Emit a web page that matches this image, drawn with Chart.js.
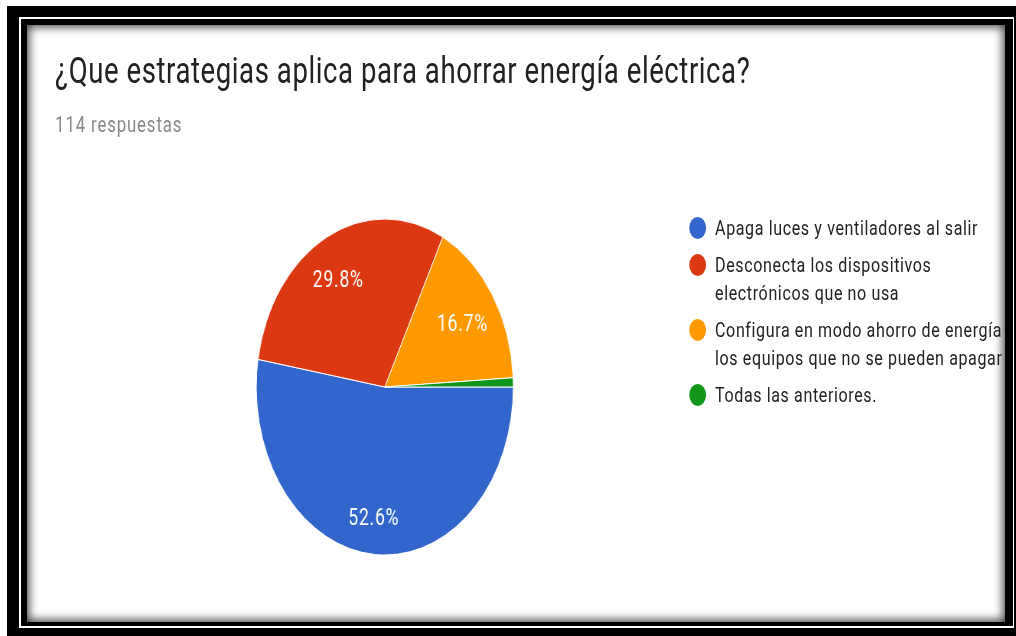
<!DOCTYPE html>
<html>
<head>
<meta charset="utf-8">
<script src="https://cdn.jsdelivr.net/npm/chart.js@4/dist/chart.umd.min.js"></script>
<style>
  html, body { margin: 0; padding: 0; background: #fff; }
  body { width: 1016px; height: 636px; position: relative; overflow: hidden; font-family: Roboto, Arial, sans-serif; }
  .abs { position: absolute; }
  #f1 { left: 7px; top: 6px; width: 1009px; height: 630px; background: #000; }
  #f2 { left: 19px; top: 17px; width: 995px; height: 611px; background: #fff; }
  #f3 { left: 21px; top: 19px; width: 992px; height: 607px; background: #000; }
  #card { left: 27px; top: 25px; width: 978px; height: 597px; background: #fff;
          box-shadow: inset 0 0 10px 2px rgba(0,0,0,0.75); }
  /* the source screenshot is squeezed horizontally, so is this */
  #wrap { left: 0; top: 0; width: 1328px; height: 636px; transform: scaleX(0.765); transform-origin: 0 0; }
  #title { left: 72px; top: 53px; font-size: 36px; letter-spacing: 0.75px; line-height: 1; color: #212121; white-space: nowrap; }
  #sub { left: 72px; top: 114px; font-size: 22px; letter-spacing: 1.1px; line-height: 1; color: #8a8a8a; white-space: nowrap; }
  #pieBox { left: 332.6px; top: 217px; width: 340px; height: 340px; }
  #legend { left: 900.7px; top: 214px; }
  .item { position: relative; padding-left: 34px; margin-bottom: 9px; font-size: 21px; letter-spacing: 0.8px; line-height: 28px; color: #222; white-space: nowrap; }
  .dot { position: absolute; left: 0; top: 3px; width: 22px; height: 22px; border-radius: 50%; }
</style>
</head>
<body>
<div class="abs" id="f1"></div>
<div class="abs" id="f2"></div>
<div class="abs" id="f3"></div>
<div class="abs" id="card"></div>
<div class="abs" id="wrap">
  <div class="abs" id="title">¿Que estrategias aplica para ahorrar energía eléctrica?</div>
  <div class="abs" id="sub">114 respuestas</div>
  <div class="abs" id="pieBox"><canvas id="pie"></canvas></div>
  <div class="abs" id="legend"></div>
</div>
<script>
const categories = [
  ['Apaga luces y ventiladores al salir'],
  ['Desconecta los dispositivos', 'electrónicos que no usa'],
  ['Configura en modo ahorro de energía', 'los equipos que no se pueden apagar'],
  ['Todas las anteriores.']
];
const responses = [60, 34, 19, 1];
const colors = ['#3366cc', '#dc3912', '#ff9900', '#109618'];

const total = responses.reduce((a, b) => a + b, 0);

// legend, built from the same arrays
const legendEl = document.getElementById('legend');
categories.forEach((lines, i) => {
  const item = document.createElement('div');
  item.className = 'item';
  item.innerHTML = `<span class="dot" style="background:${colors[i]}"></span>${lines.join('<br>')}`;
  legendEl.appendChild(item);
});

const sliceLabels = {
  id: 'sliceLabels',
  afterDatasetsDraw(chart) {
    const ctx = chart.ctx;
    const meta = chart.getDatasetMeta(0);
    ctx.save();
    ctx.fillStyle = '#fff';
    ctx.font = '23px Roboto';
    ctx.letterSpacing = '1px';
    ctx.textAlign = 'center';
    ctx.textBaseline = 'middle';
    meta.data.forEach((arc, i) => {
      const pct = responses[i] / total * 100;
      if (pct < 5) return;
      const p = arc.getProps(['x', 'y', 'startAngle', 'endAngle', 'outerRadius']);
      const mid = (p.startAngle + p.endAngle) / 2;
      const r = p.outerRadius * 0.75;
      ctx.fillText(pct.toFixed(1) + '%', p.x + Math.cos(mid) * r - 4, p.y + Math.sin(mid) * r + 7);
    });
    ctx.restore();
  }
};

new Chart(document.getElementById('pie'), {
  type: 'pie',
  data: {
    labels: categories.map(l => l.join(' ')),
    datasets: [{
      data: responses,
      backgroundColor: colors,
      borderColor: '#fff',
      borderWidth: 1
    }]
  },
  options: {
    responsive: true,
    maintainAspectRatio: false,
    animation: false,
    rotation: 90,
    radius: 168,
    layout: { padding: 0 },
    plugins: { legend: { display: false }, tooltip: { enabled: false } }
  },
  plugins: [sliceLabels]
});
</script>
</body>
</html>
